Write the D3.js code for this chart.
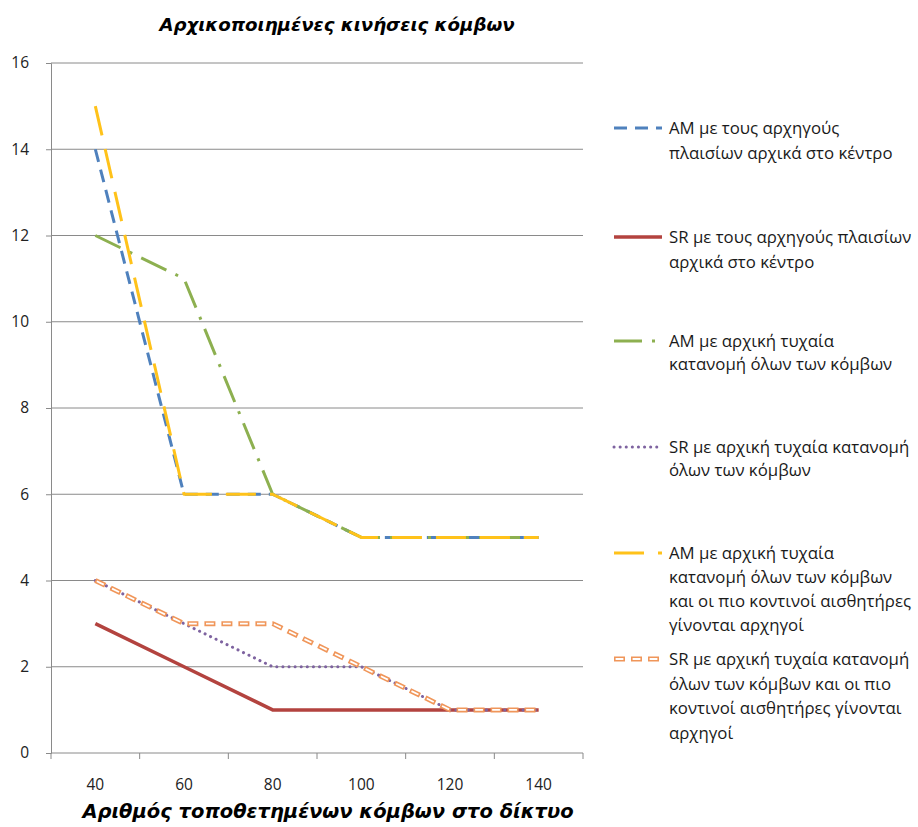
<!DOCTYPE html>
<html><head><meta charset="utf-8">
<script src="https://cdn.jsdelivr.net/npm/d3@7"></script>
<style>body{margin:0;background:#fff}svg{display:block}</style>
</head><body>
<svg id="c" width="918" height="827"></svg>
<script>
const categories = ["40","60","80","100","120","140"];
const amCenter = [14, 6, 6, 5, 5, 5];
const srCenter = [3, 2, 1, 1, 1, 1];
const amRandom = [12, 11, 6, 5, 5, 5];
const srRandom = [4, 3, 2, 2, 1, 1];
const amNearest = [15, 6, 6, 5, 5, 5];
const srNearest = [4, 3, 3, 2, 1, 1];
const yTicks = [0, 2, 4, 6, 8, 10, 12, 14, 16];
const seriesNames = [
  ["ΑΜ με τους αρχηγούς", "πλαισίων αρχικά στο κέντρο"],
  ["SR  με τους αρχηγούς πλαισίων", "αρχικά στο κέντρο"],
  ["ΑΜ με αρχική τυχαία", "κατανομή όλων των κόμβων"],
  ["SR με αρχική τυχαία κατανομή", "όλων των κόμβων"],
  ["ΑΜ με αρχική τυχαία", "κατανομή όλων των κόμβων", "και οι πιο κοντινοί αισθητήρες", "γίνονται αρχηγοί"],
  ["SR με αρχική τυχαία κατανομή", "όλων των κόμβων και οι πιο", "κοντινοί αισθητήρες γίνονται", "αρχηγοί"]
];
const title = "Αρχικοποιημένες κινήσεις κόμβων";
const xTitle = "Αριθμός τοποθετημένων κόμβων στο δίκτυο";

const styles = [
  {color:"#4F81BD", width:3, dash:"13,8", cap:"butt"},
  {color:"#B3433F", width:3.5, dash:null, cap:"butt"},
  {color:"#8DB050", width:3, dash:"28,10,3,10", cap:"butt"},
  {color:"#7E63A0", width:3, dash:"0.1,6", cap:"round"},
  {color:"#FFC21A", width:3, dash:"30,14", cap:"butt"},
  {color:"#F0965A", width:5, dash:"11,6", cap:"butt", inner:"0,1.6,7.8,7.6"}
];
const data = [amCenter, srCenter, amRandom, srRandom, amNearest, srNearest];

const svg = d3.select("#c");
const L = 51, R = 583, T = 63, B = 753;
const x = d3.scaleBand().domain(categories).range([L, R]);
const y = d3.scaleLinear().domain([0, 16]).range([B, T]);
const FONT = "Open Sans, sans-serif";

// gridlines
svg.append("g").selectAll("line").data(yTicks.filter(d => d > 0)).join("line")
  .attr("x1", L).attr("x2", R).attr("y1", d => y(d)).attr("y2", d => y(d))
  .attr("stroke", "#8a8a8a").attr("stroke-width", 1);

// y axis
const ya = svg.append("g").attr("transform", `translate(${L},0)`)
  .call(d3.axisLeft(y).tickValues(yTicks).tickSize(5).tickPadding(17));
ya.select(".domain").attr("stroke", "#8a8a8a");
ya.selectAll(".tick line").attr("stroke", "#8a8a8a");
ya.selectAll("text").attr("font-family", FONT).attr("font-size", 15.5).attr("fill", "#222");

// x axis
const xa = svg.append("g").attr("transform", `translate(0,${B})`)
  .call(d3.axisBottom(x).tickSize(0).tickPadding(26));
xa.select(".domain").attr("stroke", "#8a8a8a").attr("d", `M${L},0H${R}`);
xa.selectAll("text").attr("font-family", FONT).attr("font-size", 15.5).attr("fill", "#222");
const bounds = categories.map(c => x(c)).concat([R]);
xa.append("g").selectAll("line").data(bounds).join("line")
  .attr("x1", d => d).attr("x2", d => d).attr("y1", 0).attr("y2", 6)
  .attr("stroke", "#8a8a8a");

// lines
const line = d3.line().x((d, i) => x(categories[i]) + x.bandwidth() / 2).y(d => y(d));
data.forEach((vals, i) => {
  const s = styles[i];
  const p = svg.append("path").attr("d", line(vals)).attr("fill", "none")
    .attr("stroke", s.color).attr("stroke-width", s.width)
    .attr("stroke-linecap", s.cap).attr("stroke-linejoin", "round");
  if (s.dash) p.attr("stroke-dasharray", s.dash);
  if (s.inner) {
    svg.append("path").attr("d", line(vals)).attr("fill", "none")
      .attr("stroke", "#fff").attr("stroke-width", 1.8)
      .attr("stroke-dasharray", s.inner).attr("stroke-linejoin", "round");
  }
});

// legend
const legY = [128, 237, 341, 447, 553, 659];
const legLH = [25, 25, 23, 23, 24, 24.5];
seriesNames.forEach((lines, i) => {
  const s = styles[i];
  const g = svg.append("g");
  const ly = legY[i];
  const p = g.append("line").attr("x1", 614).attr("x2", 662).attr("y1", ly).attr("y2", ly)
    .attr("stroke", s.color).attr("stroke-width", s.width).attr("stroke-linecap", s.cap);
  if (s.dash) p.attr("stroke-dasharray", s.dash);
  if (s.inner) g.append("line").attr("x1", 614).attr("x2", 662).attr("y1", ly).attr("y2", ly)
    .attr("stroke", "#fff").attr("stroke-width", 1.8).attr("stroke-dasharray", s.inner);
  lines.forEach((t, j) => {
    g.append("text").attr("x", 669).attr("y", ly + 6 + j * legLH[i])
      .attr("font-family", FONT).attr("font-size", 16.8).attr("fill", "#1a1a1a")
      .text(t);
  });
});

// titles
svg.append("text").attr("x", 337).attr("y", 31).attr("text-anchor", "middle")
  .attr("font-family", "DejaVu Sans, sans-serif").attr("font-weight", "bold").attr("font-style", "italic")
  .attr("font-size", 18.2).attr("fill", "#000").text(title);
svg.append("text").attr("x", 328).attr("y", 818).attr("text-anchor", "middle")
  .attr("font-family", "DejaVu Sans, sans-serif").attr("font-weight", "bold").attr("font-style", "italic")
  .attr("font-size", 19.5).attr("fill", "#000").text(xTitle);
</script>
</body></html>
